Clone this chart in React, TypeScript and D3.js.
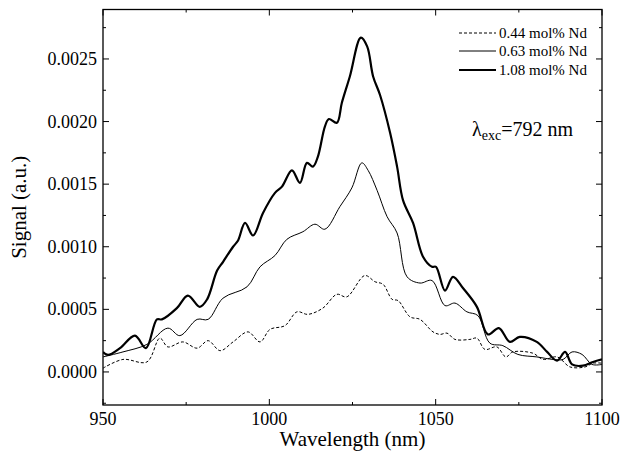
import React from "react";
import * as d3 from "d3";

// wavelength (nm), signal (a.u.)
const wl044 = [950, 956, 963.2, 967.1, 969.5, 974, 978.3, 981.6, 985.2, 989.1, 993.6, 997.2, 1000.2, 1004.7, 1008.3, 1011.6, 1016.1, 1020.3, 1023.3, 1028.7, 1031.8, 1034.2, 1036.9, 1038.7, 1042.3, 1045.3, 1049.2, 1051.3, 1053.4, 1055.8, 1060.3, 1062.4, 1064.8, 1068.4, 1071.1, 1073.2, 1079.2, 1082.3, 1086.5, 1090.4, 1094.9, 1097.3, 1100];
const sig044 = [0.00003, 0.0001, 0.00008, 0.00027, 0.0002, 0.00024, 0.00019, 0.00025, 0.00017, 0.00024, 0.00032, 0.00024, 0.00034, 0.00037, 0.00048, 0.00046, 0.00051, 0.00062, 0.0006, 0.00077, 0.00072, 0.0007, 0.00058, 0.00057, 0.00044, 0.00042, 0.00032, 0.0003, 0.00031, 0.00026, 0.00026, 0.00027, 0.00018, 0.0002, 0.00012, 0.00016, 0.00015, 0.0001, 0.00012, 0.00004, 0.00004, 0.00007, 0.00007];

const wl063 = [950, 956, 963.2, 969.5, 973.1, 978.3, 981.6, 986.1, 993.3, 997.2, 1001.7, 1005.3, 1010.1, 1013.7, 1016.7, 1021.2, 1024.8, 1027.8, 1029.7, 1032.4, 1035.4, 1038.4, 1041.4, 1045.3, 1048.9, 1052.8, 1055.8, 1059.4, 1062.7, 1066.3, 1070.2, 1074.7, 1080.4, 1085.3, 1088.3, 1091, 1094, 1097, 1100];
const sig063 = [0.00012, 0.00016, 0.00022, 0.00035, 0.00029, 0.00042, 0.00042, 0.00059, 0.00068, 0.00084, 0.00093, 0.00106, 0.00112, 0.00118, 0.00114, 0.00132, 0.00147, 0.00167, 0.00161, 0.00145, 0.00124, 0.00111, 0.00076, 0.00071, 0.00073, 0.00053, 0.00055, 0.00048, 0.00045, 0.00023, 0.00021, 0.00014, 0.00012, 0.0001, 0.0001, 0.00016, 0.00014, 0.00006, 0.00006];

const wl108 = [950, 951.5, 955.1, 959.6, 962.9, 966.2, 967.7, 972.2, 975.5, 979.1, 981.3, 984.3, 986.1, 989.1, 990.6, 992.7, 995.1, 998.1, 1001.7, 1003.8, 1006.8, 1009.2, 1011.3, 1013.1, 1014.6, 1016.7, 1017.9, 1020.3, 1021.8, 1024.2, 1027.5, 1029.4, 1031.2, 1033.3, 1036.3, 1038.4, 1040.2, 1043.2, 1046.2, 1048.9, 1050.1, 1052.8, 1055.2, 1058.2, 1062.4, 1065.7, 1069, 1072.3, 1075.3, 1080.4, 1083.5, 1086.5, 1088.9, 1091, 1094.3, 1097.3, 1100];
const sig108 = [0.00016, 0.000136, 0.00019, 0.00029, 0.00019, 0.00042, 0.00042, 0.00051, 0.00061, 0.00052, 0.00058, 0.00081, 0.00088, 0.001, 0.00105, 0.00119, 0.00109, 0.00127, 0.00143, 0.00148, 0.00161, 0.00151, 0.00167, 0.00164, 0.00172, 0.00196, 0.00202, 0.00199, 0.00215, 0.00236, 0.00267, 0.0026, 0.00236, 0.00221, 0.00191, 0.00164, 0.00137, 0.00119, 0.00092, 0.00084, 0.00084, 0.00065, 0.00076, 0.00067, 0.00052, 0.0003, 0.00035, 0.00024, 0.00028, 0.00024, 0.00016, 0.00009, 0.00016, 0.00006, 0.00005, 0.00008, 0.0001];

const seriesNames = ["0.44 mol% Nd", "0.63 mol% Nd", "1.08 mol% Nd"];
const xTicks = [950, 1000, 1050, 1100];
const xMinor = [975, 1025, 1075];
const yTicks = [0, 0.0005, 0.001, 0.0015, 0.002, 0.0025];
const yMinor = [-0.00025, 0.00025, 0.00075, 0.00125, 0.00175, 0.00225, 0.00275];

const W = 625, H = 458;
const L = 103, R = 602, T = 9.5, B = 405;
const FONT = "'Liberation Serif', 'Times New Roman', serif";
const ts = (size: number): React.CSSProperties => ({ fontFamily: FONT, fontSize: size });

export default function App() {
  const x = d3.scaleLinear().domain([950, 1100]).range([L, R]);
  const y = d3.scaleLinear().domain([-0.000264, 0.002895]).range([B, T]);
  const line = d3.line<[number, number]>().x(d => x(d[0])).y(d => y(d[1])).curve(d3.curveCatmullRom.alpha(0.5));
  const zip = (a: number[], b: number[]) => a.map((v, i) => [v, b[i]] as [number, number]);
  const series = [
    { name: seriesNames[0], d: zip(wl044, sig044), w: 1, dash: "3,2" },
    { name: seriesNames[1], d: zip(wl063, sig063), w: 1, dash: undefined },
    { name: seriesNames[2], d: zip(wl108, sig108), w: 2.2, dash: undefined },
  ];
  const legY = [33, 51, 70];
  return (
    <svg width={W} height={H} style={{ position: "absolute", left: 0, top: 0, background: "#fff", fontFamily: FONT }}>
      <defs>
        <clipPath id="plot"><rect x={L} y={T} width={R - L} height={B - T} /></clipPath>
      </defs>
      <g clipPath="url(#plot)">
        {series.map(s => (
          <path key={s.name} d={line(s.d) || ""} fill="none" stroke="#000" strokeWidth={s.w} strokeDasharray={s.dash} strokeLinejoin="round" />
        ))}
      </g>
      <rect x={L} y={T} width={R - L} height={B - T} fill="none" stroke="#000" strokeWidth={1.3} />
      {xTicks.map(t => (
        <g key={"x" + t}>
          <line x1={x(t)} x2={x(t)} y1={B} y2={B - 6} stroke="#000" />
          <line x1={x(t)} x2={x(t)} y1={T} y2={T + 6} stroke="#000" />
          <text x={x(t)} y={B + 20} style={ts(18)} textAnchor="middle">{t}</text>
        </g>
      ))}
      {xMinor.map(t => (
        <g key={"xm" + t}>
          <line x1={x(t)} x2={x(t)} y1={B} y2={B - 3} stroke="#000" />
          <line x1={x(t)} x2={x(t)} y1={T} y2={T + 3} stroke="#000" />
        </g>
      ))}
      {yTicks.map(t => (
        <g key={"y" + t}>
          <line x1={L} x2={L + 6} y1={y(t)} y2={y(t)} stroke="#000" />
          <line x1={R} x2={R - 6} y1={y(t)} y2={y(t)} stroke="#000" />
          <text x={L - 6} y={y(t) + 6} style={ts(18)} textAnchor="end">{d3.format(".4f")(t)}</text>
        </g>
      ))}
      {yMinor.map(t => (
        <g key={"ym" + t}>
          <line x1={L} x2={L + 3} y1={y(t)} y2={y(t)} stroke="#000" />
          <line x1={R} x2={R - 3} y1={y(t)} y2={y(t)} stroke="#000" />
        </g>
      ))}
      <text x={(L + R) / 2} y={H - 12} style={ts(21)} textAnchor="middle">Wavelength (nm)</text>
      <text transform={`translate(26, ${(T + B) / 2}) rotate(-90)`} style={ts(21)} textAnchor="middle">Signal (a.u.)</text>
      {series.map((s, i) => (
        <g key={"leg" + i}>
          <line x1={459} x2={496} y1={legY[i]} y2={legY[i]} stroke="#000" strokeWidth={s.w} strokeDasharray={s.dash} />
          <text x={499} y={legY[i] + 5} style={ts(15)}>{s.name}</text>
        </g>
      ))}
      <text x={472} y={136} style={ts(20)}>
        λ<tspan style={ts(14)} dy={4}>exc</tspan><tspan dy={-4}>=792 nm</tspan>
      </text>
    </svg>
  );
}
